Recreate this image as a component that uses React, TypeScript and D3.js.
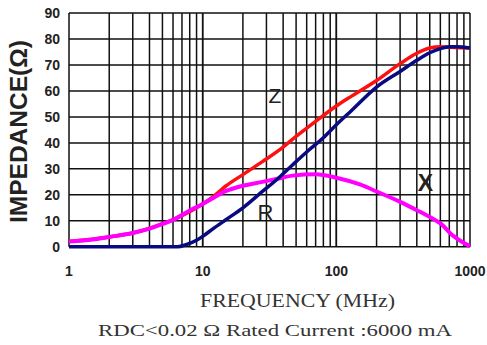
import React from "react";
import * as d3 from "d3";

const zFreq = [1, 2, 3, 5, 7, 10, 12, 15, 20, 28, 38, 50, 70, 100, 130, 200, 300, 400, 500, 600, 700, 850, 1000];
const zVals = [2, 3.8, 5.3, 8.8, 12, 16.5, 19.3, 23.5, 27.8, 32.8, 37.5, 42.5, 48.3, 54.2, 58, 64, 70.5, 74.5, 76.5, 77, 76.8, 76.6, 76.5];

const rFreq = [1, 3, 6.5, 7.5, 9, 10, 12, 15, 20, 28, 37, 47, 60, 80, 100, 130, 200, 300, 400, 500, 600, 700, 800, 1000];
const rVals = [0, 0, 0, 0.8, 2.5, 4, 7, 10.5, 15, 21.3, 26.5, 31.5, 36.5, 42, 47, 52.5, 61.5, 67.5, 71.8, 74.7, 76.3, 77, 77, 76.5];

const xFreq = [1, 1.5, 2, 3, 4, 5, 6, 8, 10, 12, 15, 20, 28, 37, 47, 70, 100, 150, 200, 300, 400, 500, 600, 750, 900, 1000];
const xVals = [2, 2.8, 3.8, 5.3, 7, 8.8, 10.3, 14, 16.5, 18.8, 21.5, 23.5, 25, 26.3, 27.4, 27.9, 26.6, 24, 21.3, 17.3, 14.1, 11.5, 9, 4.2, 1.5, 0.3];

const yTicks = [0, 10, 20, 30, 40, 50, 60, 70, 80, 90];
const xTickLabels = [1, 10, 100, 1000];

const W = 487, H = 345;
const L = 69, R = 470, T = 13, B = 246.8;

export default function App() {
  const x = d3.scaleLog().domain([1, 1000]).range([L, R]);
  const y = d3.scaleLinear().domain([0, 90]).range([B, T]);

  const vGrid: number[] = [];
  for (const dec of [1, 10, 100]) for (let k = 1; k <= 10; k++) vGrid.push(dec * k);

  const line = (fs: number[], vs: number[]) =>
    d3.line<number>()
      .x((_, i) => x(fs[i]))
      .y((v) => y(v))
      .curve(d3.curveMonotoneX)(vs) || "";

  const sans = "'Liberation Sans', Arial, sans-serif";
  const serif = "'Liberation Serif', 'DejaVu Serif', serif";

  return (
    <svg width={W} height={H} style={{ position: "absolute", left: 0, top: 0, background: "#fff" }}>
      <g stroke="#111" strokeWidth={1.5} fill="none">
        {yTicks.map((t) => (
          <line key={"h" + t} x1={L} x2={R} y1={y(t)} y2={y(t)} />
        ))}
        {vGrid.map((f, i) => (
          <line key={"v" + i} x1={x(f)} x2={x(f)} y1={T} y2={B} />
        ))}
      </g>
      <path d={line(zFreq, zVals)} stroke="#ff1010" strokeWidth={3.5} fill="none" />
      <path d={line(xFreq, xVals)} stroke="#ff00ff" strokeWidth={4} fill="none" />
      <path d={line(rFreq, rVals)} stroke="#0a0a80" strokeWidth={3.5} fill="none" />

      <g fontFamily={sans} fontWeight="bold" fontSize={14} fill="#222">
        {yTicks.map((t) => (
          <text key={"yl" + t} x={60} y={y(t) + 5} textAnchor="end">{t}</text>
        ))}
        {xTickLabels.map((t) => (
          <text key={"xl" + t} x={x(t)} y={276} textAnchor="middle">{t}</text>
        ))}
      </g>
      <text
        transform="translate(27,131.5) rotate(-90)"
        textAnchor="middle"
        fontFamily={sans}
        fontWeight="bold"
        fontSize={23}
        fill="#222"
        textLength={183}
        lengthAdjust="spacingAndGlyphs"
      >IMPEDANCE(Ω)</text>

      <text x={275} y={103} textAnchor="middle" fontFamily={sans} fontSize={21} fill="#222">Z</text>
      <text x={265.5} y={219.5} textAnchor="middle" fontFamily={sans} fontSize={22} fill="#222">R</text>
      <text x={425.5} y={191} textAnchor="middle" fontFamily={sans} fontWeight="bold" fontSize={23} fill="#222">X</text>

      <text x={200} y={307} fontFamily={serif} fontSize={19} fill="#333" textLength={195} lengthAdjust="spacingAndGlyphs">FREQUENCY (MHz)</text>
      <text x={98} y={336} fontFamily={serif} fontSize={17} fill="#333" textLength={354} lengthAdjust="spacingAndGlyphs">RDC&lt;0.02 Ω Rated Current :6000 mA</text>
    </svg>
  );
}
